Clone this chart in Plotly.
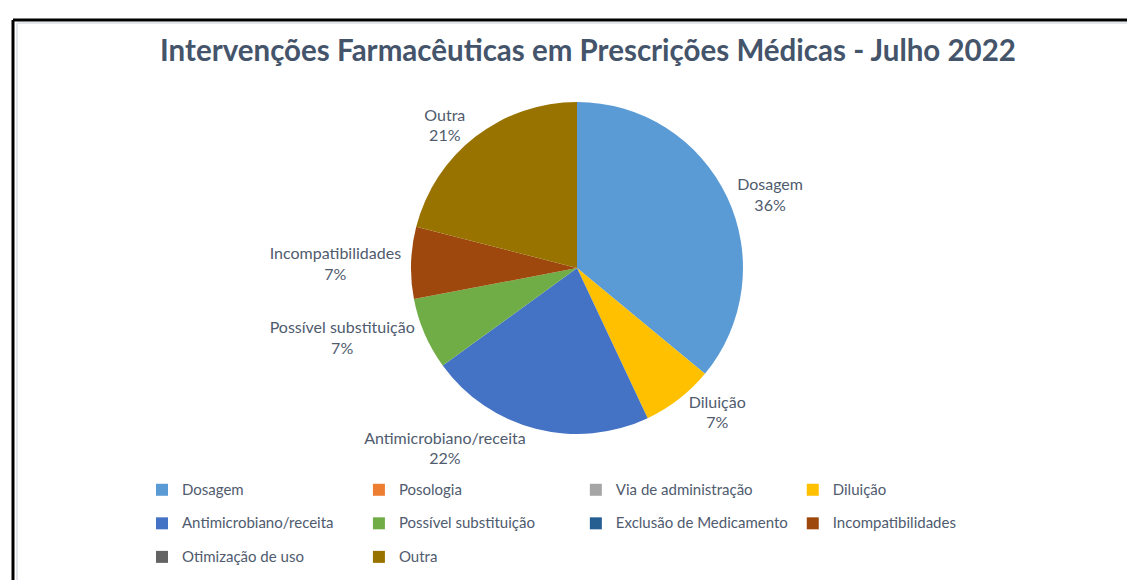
import plotly.graph_objects as go

categories = ["Dosagem", "Posologia", "Via de administração", "Diluição",
              "Antimicrobiano/receita", "Possível substituição",
              "Exclusão de Medicamento", "Incompatibilidades",
              "Otimização de uso", "Outra"]
values = [36, 0, 0, 7, 22, 7, 0, 7, 0, 21]
colors = ["#5B9BD5", "#ED7D31", "#A5A5A5", "#FFC000", "#4472C4",
          "#70AD47", "#255E91", "#9E480E", "#636363", "#997300"]
title_text = "Intervenções Farmacêuticas em Prescrições Médicas - Julho 2022"

W, H = 1135, 580
R = 135              # right margin -> plot area width used for legend wrapping
PW = W - R           # plot-area width in px
txt_color = "#4F5B6E"
font_family = "Lato, 'Open Sans', sans-serif"


def px(x):
    return x / PW


def py(y):
    return 1 - y / H


# legend entries: small visible text, but a tall legend font for row spacing
legend_labels = ['<span style="font-size:15px;baseline-shift:4px">%s</span>' % c
                 for c in categories]
templates = ['<span style="font-size:16px">%s</span><br>%%{percent:.0%%}' % c if v > 0 else ""
             for c, v in zip(categories, values)]

cx, cy, rad = 569, 260, 166
fig = go.Figure(go.Pie(
    labels=legend_labels,
    values=values,
    sort=False,
    direction="clockwise",
    rotation=0,
    marker=dict(colors=colors, line=dict(width=0)),
    texttemplate=templates,
    textposition="outside",
    textfont=dict(size=16, color=txt_color, family=font_family),
    showlegend=True,
    domain=dict(x=[px(cx - 300), px(cx + 300)], y=[py(cy + rad), py(cy - rad)]),
    hoverinfo="percent",
))

shapes = [
    dict(type="line", xref="paper", yref="paper", x0=px(5), x1=px(W), y0=py(12), y1=py(12),
         line=dict(color="black", width=3)),
    dict(type="line", xref="paper", yref="paper", x0=px(5), x1=px(5), y0=py(H), y1=py(12),
         line=dict(color="black", width=3)),
    dict(type="line", xref="paper", yref="paper", x0=px(9), x1=px(W), y0=py(15), y1=py(15),
         line=dict(color="#E3E7EC", width=2)),
    dict(type="line", xref="paper", yref="paper", x0=px(9), x1=px(9), y0=py(H), y1=py(15),
         line=dict(color="#E3E7EC", width=2)),
]

fig.update_layout(
    width=W, height=H,
    margin=dict(l=0, r=R, t=0, b=0, autoexpand=False),
    paper_bgcolor="white",
    plot_bgcolor="white",
    font=dict(family=font_family, color=txt_color),
    title=dict(text="<b>" + title_text + "</b>", x=580 / W, xanchor="center",
               y=1 - 43 / H, yanchor="middle",
               font=dict(size=29.5, color="#44546A", family=font_family)),
    legend=dict(orientation="h", x=px(134), xanchor="left", y=py(460), yanchor="top",
                font=dict(size=23.5, color=txt_color, family=font_family)),
    shapes=shapes,
)

fig.write_html("out.html")
